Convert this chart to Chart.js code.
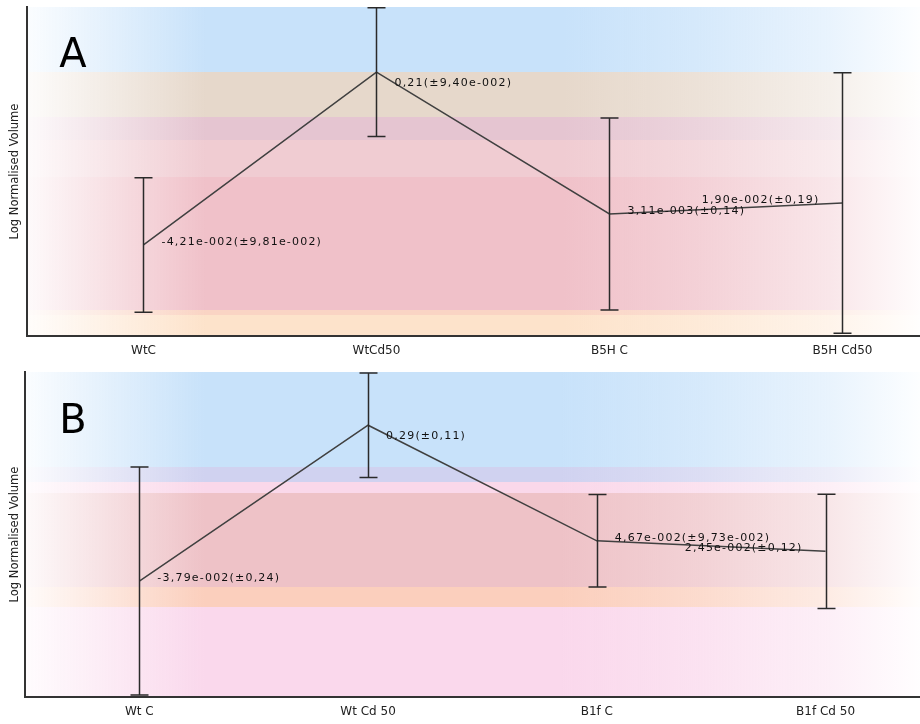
<!DOCTYPE html>
<html>
<head>
<meta charset="utf-8">
<script src="https://cdn.jsdelivr.net/npm/chart.js@4"></script>
<style>
  html, body { margin: 0; padding: 0; background: #fff; }
  #wrap { position: relative; width: 920px; height: 724px; }
  #chartA { position: absolute; left: 0; top: 0; }
  #chartB { position: absolute; left: 0; top: 360px; }
</style>
</head>
<body>
<div id="wrap">
  <canvas id="chartA" width="920" height="360"></canvas>
  <canvas id="chartB" width="920" height="364"></canvas>
</div>
<script>
// panel A
const labelsA = ['WtC', 'WtCd50', 'B5H C', 'B5H Cd50'];
const meansA = [-0.0421, 0.21, 0.00311, 0.019];
const errorsA = [0.0981, 0.094, 0.14, 0.19];
// band edges (y units, top to bottom) for the coloured background
const bandEdgesA = [0.305, 0.21, 0.1445, 0.111, 0.057, -0.137, -0.1445, -0.175];

// panel B
const labelsB = ['Wt C', 'Wt Cd 50', 'B1f C', 'B1f Cd 50'];
const meansB = [-0.0379, 0.29, 0.0467, 0.0245];
const errorsB = [0.24, 0.11, 0.0973, 0.12];
const bandEdgesB = [0.402, 0.202, 0.1705, 0.147, -0.0505, -0.0926, -0.282];

// colours of the bands
const bandColorsA = ['#c8e2fa', '#e6d8cb', '#e5c5d1', '#f0ccd2', '#f0c1c9', '#fad4c4', '#fde3cb'];
const bandColorsB = ['#c8e2fa', '#d0d2f0', '#fad8ea', '#eec2c7', '#fbcfbd', '#fad8ec'];

// horizontal fade of the bands: [position, alpha]
const fadeStops = [[0, 0.08], [0.2, 1], [0.6, 1], [0.75, 0.75], [0.9, 0.4], [1, 0.05]];

function rgba(hex, a) {
    const n = parseInt(hex.slice(1), 16);
    return 'rgba(' + (n >> 16) + ',' + ((n >> 8) & 255) + ',' + (n & 255) + ',' + a + ')';
}

// 0,21 or -4,21e-002 like the original software
function fmt(v) {
    if (Math.abs(v) >= 0.1) return v.toFixed(2).replace('.', ',');
    const parts = v.toExponential(2).split('e');
    const ex = Math.abs(parseInt(parts[1], 10));
    return parts[0].replace('.', ',') + 'e' + (parts[1][0] === '-' ? '-' : '+') + String(ex).padStart(3, '0');
}

const panelDecor = {
    id: 'panelDecor',
    beforeDraw(chart, args, opts) {
        const ctx = chart.ctx;
        const a = chart.chartArea;
        const y = chart.scales.y;
        const w = chart.width;
        ctx.save();
        for (let i = 0; i < opts.edges.length - 1; i++) {
            const y1 = Math.round(y.getPixelForValue(opts.edges[i]));
            const y2 = Math.round(y.getPixelForValue(opts.edges[i + 1]));
            const g = ctx.createLinearGradient(a.left, 0, w, 0);
            fadeStops.forEach(s => g.addColorStop(s[0], rgba(opts.colors[i], s[1])));
            ctx.fillStyle = g;
            ctx.fillRect(a.left, y1, w - a.left, y2 - y1);
        }
        ctx.restore();
    },
    afterDatasetsDraw(chart, args, opts) {
        const ctx = chart.ctx;
        const xs = chart.scales.x;
        const y = chart.scales.y;
        const means = opts.means;
        const errs = opts.errors;
        ctx.save();
        ctx.strokeStyle = '#2a2a2a';
        ctx.lineWidth = 1.5;
        for (let i = 0; i < means.length; i++) {
            const px = Math.round(xs.getPixelForValue(i)) + 0.5;
            const yt = y.getPixelForValue(means[i] + errs[i]);
            const yb = y.getPixelForValue(means[i] - errs[i]);
            ctx.beginPath();
            ctx.moveTo(px, yt); ctx.lineTo(px, yb);
            ctx.moveTo(px - 9, yt); ctx.lineTo(px + 9, yt);
            ctx.moveTo(px - 9, yb); ctx.lineTo(px + 9, yb);
            ctx.stroke();
        }
        // value labels
        ctx.fillStyle = '#111';
        ctx.font = '11px "DejaVu Sans"';
        ctx.letterSpacing = '1.2px';
        ctx.textBaseline = 'middle';
        for (let i = 0; i < means.length; i++) {
            const px = xs.getPixelForValue(i);
            const py = y.getPixelForValue(means[i]);
            const txt = fmt(means[i]) + '(\u00b1' + fmt(errs[i]) + ')';
            const peak = i > 0 && i < means.length - 1 && means[i] > means[i - 1] && means[i] > means[i + 1];
            if (i === means.length - 1) {
                ctx.textAlign = 'right';
                ctx.fillText(txt, px - 23, py - 3);
            } else {
                ctx.textAlign = 'left';
                ctx.fillText(txt, px + 18, peak ? py + 11 : py - 3);
            }
        }
        ctx.restore();
    },
    afterDraw(chart, args, opts) {
        const ctx = chart.ctx;
        ctx.save();
        ctx.fillStyle = '#000';
        ctx.font = '40px "DejaVu Sans"';
        ctx.textAlign = 'center';
        ctx.textBaseline = 'alphabetic';
        ctx.fillText(opts.letter, 73, opts.letterY);
        ctx.restore();
    }
};

function makeChart(id, labels, means, errors, edges, colors, o) {
    return new Chart(document.getElementById(id), {
        type: 'line',
        data: {
            datasets: [{
                data: means.map((v, i) => ({ x: i, y: v })),
                borderColor: '#404040',
                borderWidth: 1.5,
                pointRadius: 0,
                tension: 0
            }]
        },
        options: {
            responsive: false,
            animation: false,
            layout: { padding: { top: o.top, left: 0, right: 0, bottom: 0 } },
            plugins: {
                legend: { display: false },
                tooltip: { enabled: false },
                panelDecor: {
                    edges: edges, colors: colors, means: means, errors: errors,
                    letter: o.letter, letterY: o.letterY
                }
            },
            scales: {
                x: {
                    type: 'linear',
                    min: -0.5,
                    max: o.xMax,
                    grid: { display: false, drawTicks: false },
                    border: { display: true, color: '#333', width: 2 },
                    afterBuildTicks: s => { s.ticks = labels.map((_, i) => ({ value: i })); },
                    afterFit: s => { s.height = o.xHeight; },
                    ticks: {
                        autoSkip: false,
                        maxRotation: 0,
                        padding: 8,
                        color: '#222',
                        font: { family: 'DejaVu Sans', size: 12 },
                        callback: v => labels[v]
                    }
                },
                y: {
                    min: o.yMin,
                    max: o.yMax,
                    grid: { display: false, drawTicks: false },
                    border: { display: true, color: '#333', width: 2 },
                    ticks: { display: false },
                    afterFit: s => { s.width = o.yWidth; },
                    title: {
                        display: true,
                        text: 'Log Normalised Volume',
                        color: '#222',
                        font: { family: 'DejaVu Sans', size: 11.5 },
                        padding: { top: 8, bottom: 0 }
                    }
                }
            }
        },
        plugins: [panelDecor]
    });
}

makeChart('chartA', labelsA, meansA, errorsA, bandEdgesA, bandColorsA, {
    top: 7, xMax: 3.333, xHeight: 24, yWidth: 27, yMin: -0.175, yMax: 0.305,
    letter: 'A', letterY: 67
});
makeChart('chartB', labelsB, meansB, errorsB, bandEdgesB, bandColorsB, {
    top: 12, xMax: 3.413, xHeight: 27, yWidth: 25, yMin: -0.282, yMax: 0.402,
    letter: 'B', letterY: 73
});
</script>
</body>
</html>
